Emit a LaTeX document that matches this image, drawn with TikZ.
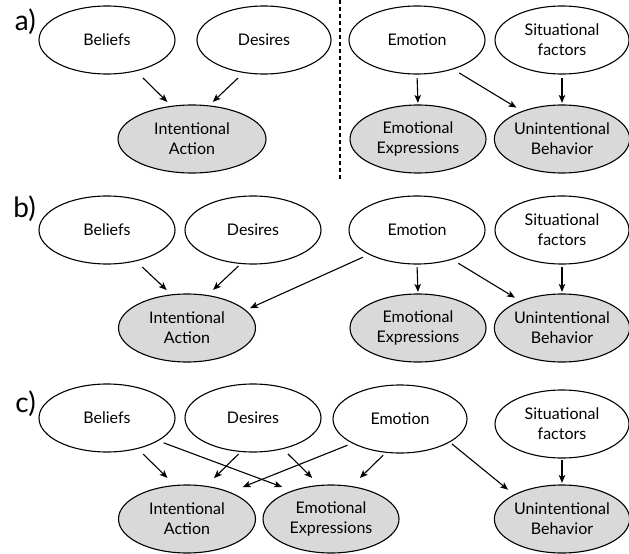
\documentclass[tikz,border=0pt]{standalone}
\usepackage{fontspec}
\setmainfont{Lato}
\usetikzlibrary{arrows.meta,shapes.geometric}
\definecolor{outshade}{gray}{0.85}
\tikzset{
  var/.style={ellipse, draw, line width=1.1pt, minimum width=136pt, minimum height=68pt,
    inner sep=0pt, align=center, font=\fontsize{16}{20}\selectfont},
  obs/.style={var, fill=outshade},
  arr/.style={-{Stealth[length=8pt,width=6.5pt,inset=2pt]}, line width=1.1pt},
  panel/.style={anchor=east, inner sep=0pt, font=\fontsize{28}{30}\selectfont}
}

\begin{document}
\begin{tikzpicture}[x=1pt,y=-1pt]
\useasboundingbox (0,0) rectangle (629,554);

% a)
\node[panel] (la) at (36,22) {a)};
\node[var] (bela) at (107,40) {Beliefs};
\node[var, minimum width=134pt] (desa) at (264,40) {Desires};
\node[obs, minimum width=148pt] (inta) at (192,139) {Intentional\\Action};
\node[var] (emoa) at (417,40) {Emotion};
\node[var, minimum width=134pt] (sita) at (562,40) {Situational\\factors};
\node[obs] (expa) at (418,139) {Emotional\\Expressions};
\node[obs, minimum width=134pt] (unia) at (562,139) {Unintentional\\Behavior};
\draw[line width=1.6pt, dash pattern=on 4pt off 3pt] (340,0) -- (340,180);

\draw[arr, shorten <=9.5pt, shorten >=5.5pt] (bela.-47) -- (inta.122);
\draw[arr, shorten <=7.5pt, shorten >=5pt] (desa.-122) -- (inta.63);
\draw[arr, shorten <=3.5pt, shorten >=1.5pt] (emoa.-90) -- (expa.90);
\draw[arr, shorten <=7pt, shorten >=6.5pt] (emoa.-39) -- (unia.145);
\draw[arr, shorten <=3.5pt, shorten >=1.5pt] (sita.-90) -- (unia.90);

% b)
\node[panel] (lb) at (36,209) {b)};
\node[var] (belb) at (107,230) {Beliefs};
\node[var] (desb) at (253,230) {Desires};
\node[obs, minimum width=137pt] (intb) at (187,328) {Intentional\\Action};
\node[var] (emob) at (417,230) {Emotion};
\node[var, minimum width=134pt] (sitb) at (562,230) {Situational\\factors};
\node[obs] (expb) at (418,328) {Emotional\\Expressions};
\node[obs, minimum width=134pt] (unib) at (562,328) {Unintentional\\Behavior};

\draw[arr, shorten <=8.5pt, shorten >=6.3pt] (belb.-47) -- (intb.115);
\draw[arr, shorten <=3pt, shorten >=7.5pt] (desb.-110) -- (intb.58);
\draw[arr, shorten <=6.5pt, shorten >=4.5pt] (emob.-153) -- (intb.17);
\draw[arr, shorten <=2.5pt, shorten >=1.5pt] (emob.-90) -- (expb.90);
\draw[arr, shorten <=7pt, shorten >=6pt] (emob.-40) -- (unib.147);
\draw[arr, shorten <=2.5pt, shorten >=1.5pt] (sitb.-90) -- (unib.90);

% c)
\node[panel] (lc) at (36,404) {c)};
\node[var] (belc) at (107,418) {Beliefs};
\node[var] (desc) at (253,418) {Desires};
\node[var, minimum width=134pt] (emoc) at (400,419) {Emotion};
\node[var, minimum width=134pt] (sitc) at (562,424) {Situational\\factors};
\node[obs, minimum width=137pt] (intc) at (187,519) {Intentional\\Action};
\node[obs] (expc) at (331,519) {Emotional\\Expressions};
\node[obs, minimum width=134pt] (unic) at (562,519) {Unintentional\\Behavior};

\draw[arr, shorten <=7.5pt, shorten >=10pt] (belc.-45) -- (intc.110);
\draw[arr, shorten <=5.5pt, shorten >=10.5pt] (belc.-24) -- (expc.144);
\draw[arr, shorten <=3pt, shorten >=11pt] (desc.-110) -- (intc.60);
\draw[arr, shorten <=7pt, shorten >=10pt] (desc.-46) -- (expc.109);
\draw[arr, shorten <=5pt, shorten >=13.5pt] (emoc.-153) -- (intc.32);
\draw[arr, shorten <=3.5pt, shorten >=11.5pt] (emoc.-113) -- (expc.58);
\draw[arr, shorten <=2.5pt, shorten >=7.5pt] (emoc.-25) -- (unic.153);
\draw[arr, shorten <=1.5pt, shorten >=1.5pt] (sitc.-90) -- (unic.90);

\end{tikzpicture}
\end{document}
